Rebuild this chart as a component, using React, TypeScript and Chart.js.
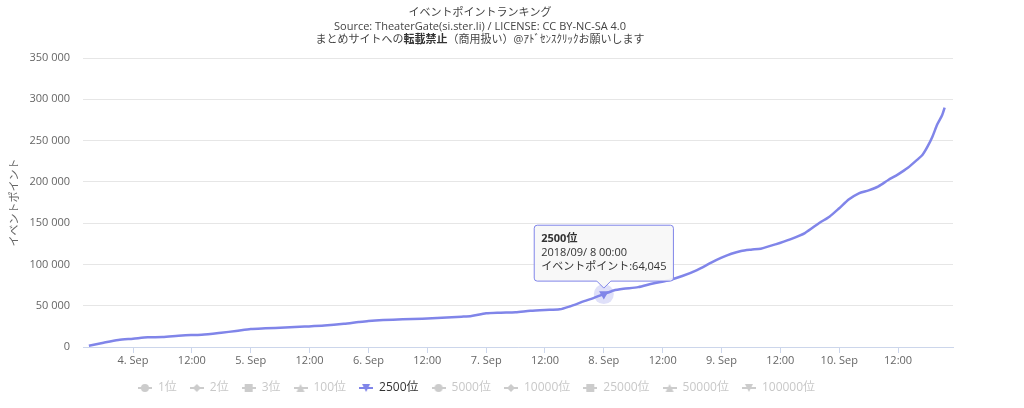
import React, { useEffect, useRef } from 'react';
import { Chart, registerables } from 'chart.js';

Chart.register(...registerables);

const FONT = '"Open Sans", "Noto Sans CJK JP", sans-serif';

// ---- texts ----
const titleText = 'イベントポイントランキング';
const subtitleLine1 = 'Source: TheaterGate(si.ster.li) / LICENSE: CC BY-NC-SA 4.0';
const subtitleLine2Parts = [
  { text: 'まとめサイトへの', bold: false },
  { text: '転載禁止', bold: true },
  { text: '（商用扱い）@ｱﾄﾞｾﾝｽｸﾘｯｸお願いします', bold: false },
];
const yAxisTitle = 'イベントポイント';
const valueLabel = 'イベントポイント';

// ---- series ----
const seriesNames = ['1位', '2位', '3位', '100位', '2500位', '5000位', '10000位', '25000位', '50000位', '100000位'];
const seriesColors = ['#7cb5ec', '#434348', '#90ed7d', '#f7a35c', '#8085e9', '#f15c80', '#e4d354', '#2b908f', '#f45b5b', '#91e8e1'];
const seriesMarkers = ['circle', 'diamond', 'square', 'triangle', 'triangle-down', 'circle', 'diamond', 'square', 'triangle', 'triangle-down'];
const visibleSeries = '2500位';

// hours since 2018/09/04 00:00
const hours2500 = [
  -9, -6, -3, 0, 3, 6, 10, 14, 18, 21, 24, 27, 31, 35, 39, 43, 46, 48, 51, 55, 59, 63, 67, 69, 72,
  75, 78, 81, 84, 87, 89, 92, 94, 96, 98, 100, 103, 106, 109, 112, 115, 118, 120, 122, 124, 126, 128,
  131, 134, 137, 140, 142, 144, 146, 148, 150, 152, 154, 156, 158, 160, 161, 162, 163, 164, 165, 165.5,
];
const points2500 = [
  1500, 5200, 8500, 10000, 11700, 12100, 14000, 14900, 17300, 19400, 21800, 22600, 23500, 24700, 26000,
  28100, 30300, 31600, 32700, 33500, 34300, 35500, 36700, 37500, 40800,
  41600, 42200, 43800, 44800, 45600, 49000, 55500, 59500, 64045, 68500, 70500, 72500, 77000, 80500, 86000,
  93200, 102500, 108200, 113000, 116300, 117900, 119100,
  124300, 130400, 138000, 150500, 157800, 168000, 178800, 186100, 189700, 194600, 202200, 209100, 217100,
  227300, 232900, 242600, 254700, 269700, 281000, 290000,
];

// ---- axes ----
const xTickHours = [0, 12, 24, 36, 48, 60, 72, 84, 96, 108, 120, 132, 144, 156];
const xTickLabels = ['4. Sep', '12:00', '5. Sep', '12:00', '6. Sep', '12:00', '7. Sep', '12:00', '8. Sep', '12:00', '9. Sep', '12:00', '10. Sep', '12:00'];
const xMin = -10.2;
const xMax = 167.2;
const yMin = 0;
const yMax = 350000;
const yStep = 50000;
const highlightHour = 96;

function pad2(n: number) {
  return String(n).padStart(2, '0');
}
function formatTime(h: number) {
  const day = 4 + Math.floor(h / 24);
  const hr = ((h % 24) + 24) % 24;
  const hh = Math.floor(hr);
  const mm = Math.round((hr - hh) * 60);
  return `2018/09/${String(day).padStart(2, ' ')} ${pad2(hh)}:${pad2(mm)}`;
}

function makeLegendIcon(color: string, marker: string) {
  const c = document.createElement('canvas');
  c.width = 14;
  c.height = 10;
  const ctx = c.getContext('2d')!;
  ctx.strokeStyle = color;
  ctx.lineWidth = 2;
  ctx.beginPath();
  ctx.moveTo(0, 5);
  ctx.lineTo(14, 5);
  ctx.stroke();
  ctx.fillStyle = color;
  const cx = 7, cy = 5, r = 4;
  ctx.beginPath();
  if (marker === 'circle') {
    ctx.arc(cx, cy, r, 0, Math.PI * 2);
  } else if (marker === 'diamond') {
    ctx.moveTo(cx, cy - r);
    ctx.lineTo(cx + r, cy);
    ctx.lineTo(cx, cy + r);
    ctx.lineTo(cx - r, cy);
  } else if (marker === 'square') {
    ctx.rect(cx - r, cy - r, 2 * r, 2 * r);
  } else if (marker === 'triangle') {
    ctx.moveTo(cx, cy - r);
    ctx.lineTo(cx + r, cy + r);
    ctx.lineTo(cx - r, cy + r);
  } else {
    ctx.moveTo(cx - r, cy - r);
    ctx.lineTo(cx + r, cy - r);
    ctx.lineTo(cx, cy + r);
  }
  ctx.closePath();
  ctx.fill();
  return c;
}

const headerPlugin = {
  id: 'header',
  afterDraw(chart: any) {
    const ctx = chart.ctx;
    const cx = chart.width / 2;
    ctx.save();
    ctx.textBaseline = 'middle';
    ctx.textAlign = 'center';
    ctx.fillStyle = '#444444';
    ctx.font = `11px ${FONT}`;
    ctx.fillText(titleText, cx, 13);
    ctx.fillText(subtitleLine1, cx, 26.5);
    // mixed weight line
    const widths = subtitleLine2Parts.map((p) => {
      ctx.font = `${p.bold ? 'bold ' : ''}11px ${FONT}`;
      return ctx.measureText(p.text).width;
    });
    const total = widths.reduce((a, b) => a + b, 0);
    let x = cx - total / 2;
    ctx.textAlign = 'left';
    subtitleLine2Parts.forEach((p, i) => {
      ctx.font = `${p.bold ? 'bold ' : ''}11px ${FONT}`;
      ctx.fillStyle = p.bold ? '#333333' : '#444444';
      ctx.fillText(p.text, x, 39.5);
      x += widths[i];
    });
    ctx.restore();
  },
};

const haloPlugin = {
  id: 'halo',
  beforeDatasetsDraw(chart: any) {
    const ctx = chart.ctx;
    chart.getActiveElements().forEach((a: any) => {
      const el = a.element;
      ctx.save();
      ctx.fillStyle = 'rgba(128,133,233,0.25)';
      ctx.beginPath();
      ctx.arc(el.x, el.y, 10, 0, Math.PI * 2);
      ctx.fill();
      ctx.restore();
    });
  },
};

export default function App() {
  const ref = useRef<HTMLCanvasElement>(null);

  useEffect(() => {
    if (!ref.current) return;
    Chart.defaults.font.family = FONT;
    const datasets = seriesNames.map((name, i) => {
      const shown = name === visibleSeries;
      return {
        label: name,
        data: shown ? hours2500.map((h, k) => ({ x: h, y: points2500[k] })) : [],
        hidden: !shown,
        borderColor: seriesColors[i],
        backgroundColor: seriesColors[i],
        borderWidth: 2.5,
        tension: 0.25,
        pointRadius: 0,
        pointHoverRadius: 5.5,
        pointStyle: 'triangle',
        pointRotation: 180,
        pointHoverBackgroundColor: seriesColors[i],
        pointHoverBorderWidth: 0,
        pointHitRadius: 0,
      };
    });

    const chart = new Chart(ref.current, {
      type: 'line',
      data: { datasets: datasets as any },
      plugins: [headerPlugin, haloPlugin],
      options: {
        animation: false,
        responsive: false,
        events: [],
        layout: { padding: { top: 58, right: 7, left: 0, bottom: 4 } },
        scales: {
          x: {
            type: 'linear',
            min: xMin,
            max: xMax,
            afterBuildTicks: (scale: any) => {
              scale.ticks = xTickHours.map((v) => ({ value: v }));
            },
            afterFit: (scale: any) => {
              scale.height = 22;
            },
            ticks: {
              color: '#666666',
              font: { size: 11 },
              padding: 1,
              maxRotation: 0,
              autoSkip: false,
              callback: (v: any) => {
                const idx = xTickHours.indexOf(Number(v));
                return idx >= 0 ? xTickLabels[idx] : '';
              },
            },
            grid: {
              display: true,
              drawOnChartArea: false,
              drawTicks: true,
              tickLength: 6,
              color: '#ccd6eb',
            },
            border: { display: true, color: '#ccd6eb', width: 1 },
          },
          y: {
            type: 'linear',
            min: yMin,
            max: yMax,
            afterFit: (scale: any) => {
              scale.width = 83;
            },
            ticks: {
              stepSize: yStep,
              color: '#666666',
              font: { size: 11 },
              padding: 13,
              callback: (v: any) => Number(v).toLocaleString('en-US').replace(/,/g, ' '),
            },
            grid: { color: '#e6e6e6', drawTicks: false },
            border: { display: false },
            title: {
              display: true,
              text: yAxisTitle,
              color: '#666666',
              font: { size: 11 },
              padding: { top: 8, bottom: 0 },
            },
          },
        },
        plugins: {
          legend: {
            display: true,
            position: 'bottom',
            onClick: () => {},
            labels: {
              usePointStyle: true,
              pointStyleWidth: 14,
              boxHeight: 10,
              padding: 13,
              font: { size: 12 },
              generateLabels: (c: any) =>
                c.data.datasets.map((ds: any, i: number) => {
                  const shown = !ds.hidden;
                  const col = shown ? seriesColors[i] : '#cccccc';
                  return {
                    text: ds.label,
                    fontColor: shown ? '#333333' : '#c8c8c8',
                    fillStyle: col,
                    strokeStyle: col,
                    lineWidth: 0,
                    hidden: false,
                    pointStyle: makeLegendIcon(col, seriesMarkers[i]),
                    datasetIndex: i,
                  };
                }),
            },
          },
          tooltip: {
            enabled: true,
            backgroundColor: 'rgba(247,247,247,0.9)',
            borderColor: '#8085e9',
            borderWidth: 1,
            titleColor: '#333333',
            bodyColor: '#333333',
            titleFont: { size: 11, weight: 'bold', lineHeight: 1.27 },
            bodyFont: { size: 11, lineHeight: 1.27 },
            titleMarginBottom: 0,
            bodySpacing: 0,
            padding: 7,
            cornerRadius: 3,
            caretSize: 7,
            caretPadding: 6,
            displayColors: false,
            xAlign: 'center',
            yAlign: 'bottom',
            callbacks: {
              title: (items: any[]) => (items.length ? items[0].dataset.label : ''),
              label: (item: any) => [
                formatTime(item.parsed.x),
                `${valueLabel}:${Number(item.parsed.y).toLocaleString('en-US')}`,
              ],
            },
          },
        },
      } as any,
    });

    const dsIndex = seriesNames.indexOf(visibleSeries);
    const idx = hours2500.indexOf(highlightHour);
    if (idx >= 0) {
      const act = [{ datasetIndex: dsIndex, index: idx }];
      chart.setActiveElements(act);
      const el: any = chart.getDatasetMeta(dsIndex).data[idx];
      chart.tooltip!.setActiveElements(act, { x: el.x, y: el.y });
      chart.update();
    }

    return () => chart.destroy();
  }, []);

  return (
    <div style={{ position: 'absolute', left: 0, top: 0, width: 960, height: 408 }}>
      <canvas ref={ref} width={960} height={408} style={{ display: 'block' }} />
    </div>
  );
}
